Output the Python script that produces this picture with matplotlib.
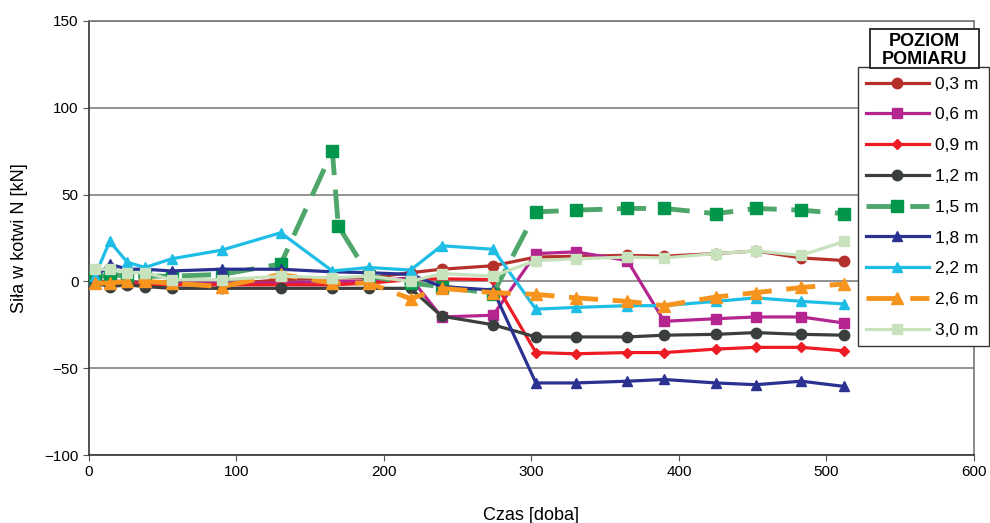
import matplotlib
matplotlib.use('Agg')
import matplotlib.pyplot as plt
from matplotlib.patches import Rectangle

plt.rcParams['font.family'] = ['Liberation Sans', 'DejaVu Sans']

# Dni pomiarow (wspolne dla wiekszosci poziomow)
days = [4, 14, 26, 38, 56, 90, 130, 165, 190, 218, 239, 274,
        303, 330, 365, 390, 425, 452, 483, 512]
# poziom 1,5 m ma dodatkowy odczyt po 169 dniach
days_15 = [4, 14, 26, 38, 56, 90, 130, 165, 169, 190, 218, 239, 274,
           303, 330, 365, 390, 425, 452, 483, 512]

f_03 = [0, 0, 0, -1, -1, -2, 1, 2, 2, 5, 7, 9,
        14, 14.5, 15, 14.5, 16, 17.5, 13.5, 12]
f_06 = [0, -1, -1, -1, -1, -1, -1, 0, 0, 2, -20.5, -19.5,
        16, 17, 12, -23, -21.5, -20.5, -20.5, -24]
f_09 = [-1, -1, -1, -2, -2, -2, -2, -2, -1, 1, 1.5, 1,
        -41, -41.7, -41, -41, -39, -38, -38, -40]
f_12 = [-1, -3, -2, -3, -4, -4, -4, -4, -4, -4, -20, -25,
        -32, -32, -32, -31, -30.5, -29.5, -30.5, -31]
f_15 = [2, 4, 3, 3, 3, 4, 10, 75, 32, 3, -1, -3, -7,
        40, 41, 42, 42, 39, 42, 41, 39]
f_18 = [2, 10, 7, 7, 6, 7, 7, 5.5, 5, 4, -3, -5,
        -58.5, -58.5, -57.5, -56.5, -58.5, -59.5, -57.5, -60.5]
f_22 = [3, 23, 11, 8, 13, 18, 28, 6, 8, 6.5, 20.5, 18.5,
        -16, -15, -14, -14, -11.5, -9.5, -11.5, -13]
f_26 = [-1, -1, 0, 0, -1, -3, 4, -1, -1, -10, -4, -6.5,
        -7.5, -9.5, -11.5, -14, -9, -6.5, -3.5, -1.5]
f_30 = [7, 7, 5, 5, 1, 1, 3, 2, 3, 0, 4.5, 3,
        12, 13, 14, 13.5, 16, 17.5, 15, 23]

fig = plt.figure(figsize=(9.9, 5.23), dpi=100)
ax = fig.add_axes([0.0899, 0.130, 0.8939, 0.830])

solid = dict(lw=2.3, ms=7.5, zorder=3)
dashed = dict(lw=3.5, ms=8, dashes=(6, 3), zorder=3)

ax.plot(days, f_03, color='#B5302B', marker='o', label='0,3 m', **solid)
ax.plot(days, f_06, color='#B5258F', marker='s', label='0,6 m', **solid)
ax.plot(days, f_09, color='#ED1C24', marker='D', label='0,9 m', lw=2.3, ms=5.5, zorder=3)
ax.plot(days, f_12, color='#3A3F3E', marker='o', label='1,2 m', **solid)
ax.plot(days_15, f_15, color='#4FA66A', marker='s', mfc='#00964B', mec='#00964B',
        label='1,5 m', **dashed)
ax.plot(days, f_18, color='#2B3190', marker='^', label='1,8 m', **solid)
ax.plot(days, f_22, color='#1EBDE6', marker='^', label='2,2 m', **solid)
ax.plot(days, f_26, color='#F7941D', marker='^', label='2,6 m', **dashed)
ax.plot(days, f_30, color='#C7E2BC', marker='s', label='3,0 m', **solid)

ax.set_xlim(0, 600)
ax.set_ylim(-100, 150)
ax.set_xticks(range(0, 601, 100))
ax.set_yticks(range(-100, 151, 50))
ax.set_yticklabels(['\u2212100', '\u221250', '0', '50', '100', '150'])
ax.tick_params(labelsize=11, direction='out', length=4, color='#555555')
for s in ax.spines.values():
    s.set_color('#777777')
    s.set_linewidth(1.2)
ax.spines['left'].set_color('#333333')
ax.spines['bottom'].set_color('#333333')
ax.yaxis.grid(True, color='#808080', lw=1.2)
ax.set_axisbelow(True)

ax.set_xlabel('Czas [doba]', fontsize=13, labelpad=20)
ax.set_ylabel('Siła w kotwi N [kN]', fontsize=13, labelpad=12)

# ramka legendy rysowana osobno
fig.patches.append(Rectangle((858 / 990, 1 - 346 / 523), 131 / 990, 279 / 523,
                             transform=fig.transFigure, fc='white',
                             ec='#333333', lw=1.0, zorder=4))
handles, labels = ax.get_legend_handles_labels()
leg = fig.legend(handles, labels, loc='upper left',
                 bbox_to_anchor=(866 / 990, 1 - 76.5 / 523),
                 fontsize=12.5, frameon=False,
                 handlelength=3.6, labelspacing=0.9, borderpad=0,
                 handletextpad=0.35, borderaxespad=0)
leg.set_zorder(6)

# ramka z tytulem legendy
fig.patches.append(Rectangle((870 / 990, 1 - 68 / 523), 109 / 990, 39 / 523,
                             transform=fig.transFigure, fc='white',
                             ec='#222222', lw=1.3, zorder=5))
fig.text(924 / 990, 1 - 50.5 / 523, 'POZIOM\nPOMIARU', ha='center', va='center',
         fontsize=13, fontweight='bold', linespacing=1.05, zorder=6)

fig.savefig('out.png', dpi=100)
